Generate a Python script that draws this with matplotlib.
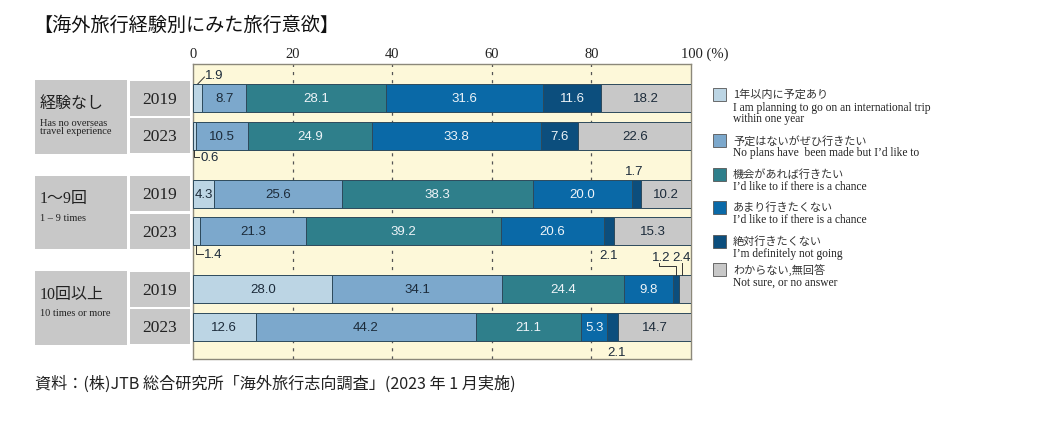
import numpy as np
import matplotlib
matplotlib.use('Agg')
import matplotlib.pyplot as plt
from matplotlib.patches import Rectangle

plt.rcParams['font.family'] = ['Noto Sans CJK JP', 'DejaVu Sans']

# ---- data ----
groups_jp = ['経験なし', '1～9回', '10回以上']
groups_en = [['Has no overseas', 'travel experience'], ['1 – 9 times'], ['10 times or more']]
years = ['2019', '2023']

cat_jp = ['1年以内に予定あり', '予定はないがぜひ行きたい', '機会があれば行きたい',
          'あまり行きたくない', '絶対行きたくない', 'わからない,無回答']
cat_en = ['I am planning to go on an international trip\nwithin one year',
          'No plans have  been made but I’d like to',
          'I’d like to if there is a chance',
          'I’d like to if there is a chance',
          'I’m definitely not going',
          'Not sure, or no answer']

no_exp_2019 = [1.9, 8.7, 28.1, 31.6, 11.6, 18.2]
no_exp_2023 = [0.6, 10.5, 24.9, 33.8, 7.6, 22.6]
few_2019 = [4.3, 25.6, 38.3, 20.0, 1.7, 10.2]
few_2023 = [1.4, 21.3, 39.2, 20.6, 2.1, 15.3]
many_2019 = [28.0, 34.1, 24.4, 9.8, 1.2, 2.4]
many_2023 = [12.6, 44.2, 21.1, 5.3, 2.1, 14.7]
rows = [no_exp_2019, no_exp_2023, few_2019, few_2023, many_2019, many_2023]

xticks = [0, 20, 40, 60, 80, 100]

colors = ['#bcd5e4', '#7ca8cc', '#2f7f8b', '#0a69a7', '#0c4e7d', '#c8c8c8']
text_cols = ['#1c2b3a', '#1c2b3a', '#eef4f8', '#eef4f8', '#eef4f8', '#1c2b3a']

W, H = 1038, 427
fig = plt.figure(figsize=(W / 100, H / 100), dpi=100)

# overlay in pixel coordinates for text / label boxes
bg = fig.add_axes([0, 0, 1, 1], zorder=0)
bg.set_xlim(0, W)
bg.set_ylim(H, 0)
bg.axis('off')

# main bar axes, y in pixel units so it lines up with the overlay
ax_l, ax_r, ax_t, ax_b = 193, 691, 65, 360
ax = fig.add_axes([ax_l / W, 1 - ax_b / H, (ax_r - ax_l) / W, (ax_b - ax_t) / H], zorder=2)
ax.set_xlim(0, 100)
ax.set_ylim(ax_b, ax_t)
ax.set_facecolor('#fdf8d9')
for s in ax.spines.values():
    s.set_color('#8c887a')
    s.set_linewidth(1.0)
ax.set_xticks([])
ax.set_yticks([])
for x in xticks[1:-1]:
    ax.axvline(x, color='#555555', lw=0.9, ls=(0, (2.5, 4)), zorder=1)

serif = ['Liberation Serif', 'Noto Sans CJK JP']
narrow = ['Liberation Sans Narrow', 'Liberation Sans']

# tick labels on top
for x in xticks:
    lab = '100 (%)' if x == 100 else str(x)
    px = ax_l + (ax_r - ax_l) * x / 100
    bg.text(px - (10 if x == 100 else 0), 54, lab, ha='left' if x == 100 else 'center',
            va='center', fontsize=10.5, family=serif, color='#222222')

# bar positions
group_gap, year_gap, first_y = 95.5, 37.5, 99
ycent = [first_y + g * group_gap + k * year_gap for g in range(3) for k in range(2)]
bar_h = 28

for yc, vals in zip(ycent, rows):
    left = 0
    for i, v in enumerate(vals):
        ax.barh(yc, v, left=left, height=bar_h, color=colors[i],
                edgecolor='#2d4a5c', linewidth=0.7, zorder=3)
        if v >= 3:
            ax.text(left + v / 2, yc, f'{v:.1f}', ha='center', va='center',
                    fontsize=9.5, family=narrow, color=text_cols[i], zorder=4)
        left += v

# small-value annotations outside bars
ann_kw = dict(fontsize=9.5, family=narrow, color='#1c2b3a', zorder=4)
line_kw = dict(color='#333333', lw=0.7, zorder=4)
top = lambda r: ycent[r] - bar_h / 2
bot = lambda r: ycent[r] + bar_h / 2

# 1.9 (row 0, first segment) diagonal leader
v = no_exp_2019[0]
ax.plot([v * 0.5, 2.3], [top(0), top(0) - 7], **line_kw)
ax.text(2.4, top(0) - 9, f'{v:.1f}', ha='left', va='center', **ann_kw)
# 0.6 (row 1) elbow leader
v = no_exp_2023[0]
ax.plot([v * 0.5, v * 0.5, 1.3], [bot(1), bot(1) + 7, bot(1) + 7], **line_kw)
ax.text(1.5, bot(1) + 7, f'{v:.1f}', ha='left', va='center', **ann_kw)
# 1.7 (row 2, 5th segment) above
v = few_2019[4]
c = sum(few_2019[:4]) + v / 2
ax.text(c - 0.5, top(2) - 9, f'{v:.1f}', ha='center', va='center', **ann_kw)
# 1.4 (row 3) elbow
v = few_2023[0]
ax.plot([v * 0.5, v * 0.5, 2.0], [bot(3), bot(3) + 9, bot(3) + 9], **line_kw)
ax.text(2.2, bot(3) + 9, f'{v:.1f}', ha='left', va='center', **ann_kw)
# 2.1 (row 3, 5th segment) below
v = few_2023[4]
c = sum(few_2023[:4]) + v / 2
ax.text(c - 0.2, bot(3) + 10, f'{v:.1f}', ha='center', va='center', **ann_kw)
# 1.2 / 2.4 (row 4) bracket leaders
v5 = many_2019[4]
c5 = sum(many_2019[:4]) + v5 / 2
v6 = many_2019[5]
c6 = sum(many_2019[:5]) + v6 / 2
ax.text(94.0, top(4) - 18, f'{v5:.1f}', ha='center', va='center', **ann_kw)
ax.text(98.0, top(4) - 18, f'{v6:.1f}', ha='center', va='center', **ann_kw)
ax.plot([93.6, 93.6, c5, c5], [top(4) - 12, top(4) - 9, top(4) - 9, top(4)], **line_kw)
ax.plot([c6 - 0.6, c6 - 0.6], [top(4) - 12, top(4)], **line_kw)
# 2.1 (row 5, 5th segment) below
v = many_2023[4]
c = sum(many_2023[:4]) + v / 2
ax.text(c + 0.8, bot(5) + 11, f'{v:.1f}', ha='center', va='center', **ann_kw)

# left label boxes
box_col = '#c8c8c8'
for g in range(3):
    y0 = ycent[2 * g] - 18
    y1 = ycent[2 * g + 1] + 18
    bg.add_patch(Rectangle((35, y0), 92, y1 - y0, facecolor=box_col, edgecolor='none'))
    bg.text(40, ycent[2 * g] + 5, groups_jp[g], ha='left', va='center', fontsize=11.5,
            family=serif, color='#222222')
    for j, line in enumerate(groups_en[g]):
        bg.text(40, ycent[2 * g] + 24 + j * 9, line, ha='left', va='center', fontsize=7.5,
                family=serif, color='#222222')
    for k in range(2):
        yc = ycent[2 * g + k]
        bg.add_patch(Rectangle((130, yc - 17.5), 60, 35, facecolor=box_col, edgecolor='none'))
        bg.text(160, yc + 1, years[k], ha='center', va='center', fontsize=12.5,
                family=serif, color='#222222')

# legend
leg_y = [95, 141, 175, 208, 242, 270]
for i in range(6):
    y = leg_y[i]
    bg.add_patch(Rectangle((713, y - 6.5), 13, 13, facecolor=colors[i],
                           edgecolor='#555555', linewidth=0.6))
    bg.text(733, y, cat_jp[i], ha='left', va='center', fontsize=8, color='#333333')
    for j, line in enumerate(cat_en[i].split('\n')):
        bg.text(733, y + 12.5 + j * 11.5, line, ha='left', va='center', fontsize=8.3,
                family=serif, color='#222222')

# title and source
bg.text(33, 25, '【海外旅行経験別にみた旅行意欲】', ha='left', va='center', fontsize=13.8,
        color='#111111')
bg.text(35, 384, '資料：(株)JTB 総合研究所「海外旅行志向調査」(2023 年 1 月実施)',
        ha='left', va='center', fontsize=11.6, color='#222222')

fig.savefig('out.png', dpi=100)
